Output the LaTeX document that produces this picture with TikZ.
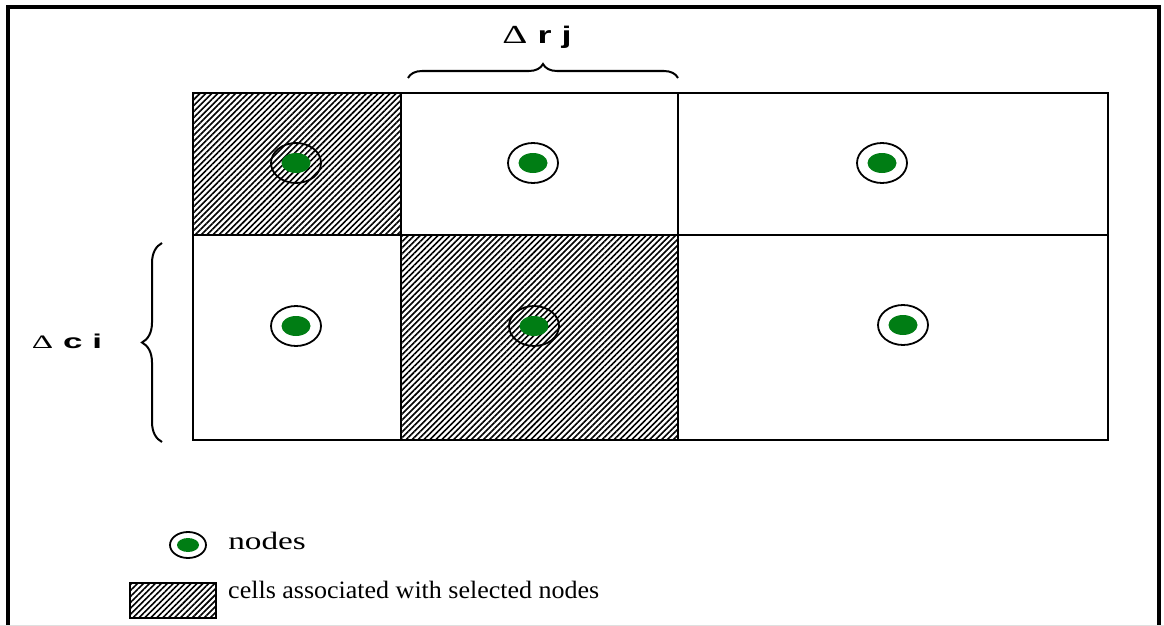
\documentclass[tikz,border=0pt]{standalone}
\usepackage{fontspec}
\setmainfont{Liberation Serif}
\newfontfamily\lsans{Liberation Sans}
\usetikzlibrary{patterns.meta,decorations.pathreplacing,shapes.geometric}
\definecolor{nodegreen}{RGB}{0,125,20}
\begin{document}
\begin{tikzpicture}[x=1pt,y=-1pt,
  gridline/.style={line width=2pt},
  frameline/.style={line width=3.5pt},
  hatch/.style={pattern={Lines[angle=45,distance=4.2pt,line width=1.6pt]},pattern color=black},
  ring/.style={ellipse,draw=black,line width=1.8pt,minimum width=50pt,minimum height=40pt,inner sep=0pt},
  dot/.style={ellipse,fill=nodegreen,minimum width=29pt,minimum height=20pt,inner sep=0pt},
  bracestyle/.style={decorate,line width=2pt},
  legendtext/.style={font=\fontsize{25}{25}\selectfont,anchor=base west,inner sep=0pt},
  dimlabel/.style={inner sep=0pt,anchor=base}
]
\useasboundingbox (0,0) rectangle (1164,626);
% frame
\draw[frameline] (8,630) -- (8,7) -- (1159,7) -- (1159,630);
\draw[gray!25,line width=1pt] (0,625.5) -- (1164,625.5);
% hatched cells
\fill[hatch] (193,93) rectangle (401,235);
\fill[hatch] (401,235) rectangle (678,440);
% grid
\draw[gridline] (193,93) rectangle (1108,440);
\draw[gridline] (401,93) -- (401,440);
\draw[gridline] (678,93) -- (678,440);
\draw[gridline] (193,235) -- (1108,235);
% nodes
\foreach \nm/\px/\py in {a/296/163, b/533/163, c/882/163, d/296/326, e/534/326, f/903/325}{
  \node[ring] (r\nm) at (\px,\py) {};
  \node[dot] (g\nm) at (\px,\py) {};
}
% braces
\coordinate (bt1) at (408,78);
\coordinate (bt2) at (678,78);
\draw[bracestyle,decoration={brace,amplitude=14pt}] (bt1) -- (bt2);
\coordinate (bl1) at (162,442);
\coordinate (bl2) at (162,243);
\draw[bracestyle,decoration={brace,amplitude=20pt}] (bl1) -- (bl2);
% labels
\node[dimlabel,xscale=1.5,font=\lsans\bfseries\fontsize{24}{24}\selectfont] (lrj) at (537,44) {{\rmfamily\mdseries\fontsize{26}{26}\selectfont Δ} r j};
\node[dimlabel,xscale=1.75,font=\lsans\bfseries\fontsize{20}{20}\selectfont] (lci) at (67,348) {{\rmfamily\mdseries\fontsize{19}{19}\selectfont Δ} c i};
% legend
\node[ring,minimum width=36pt,minimum height=26pt] (lr) at (188,545) {};
\node[dot,minimum width=22pt,minimum height=14pt] (lg) at (188,545) {};
\node[legendtext,xscale=1.33] (ln) at (228,549) {nodes};
\fill[hatch] (130,583) rectangle (216,618);
\draw[line width=1.6pt] (130,583) rectangle (216,618);
\node[legendtext,xscale=1.04] (lc) at (228,598) {cells associated with selected nodes};
\end{tikzpicture}
\end{document}
